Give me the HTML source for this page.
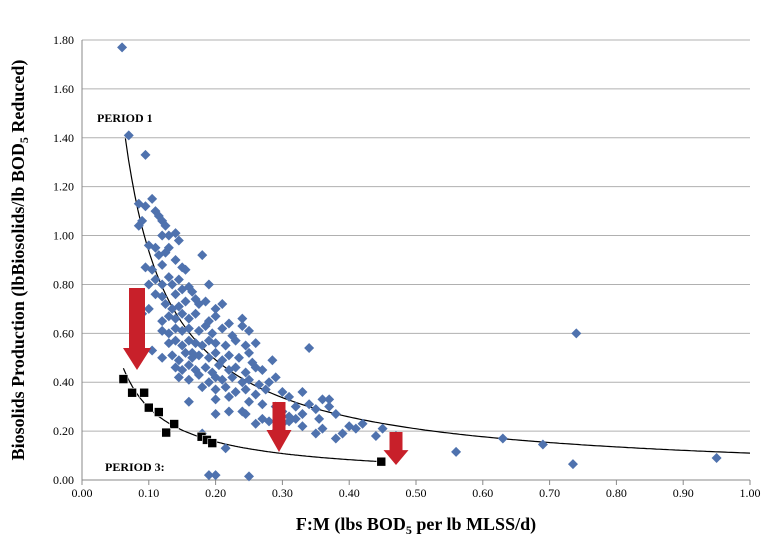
<!DOCTYPE html>
<html><head><meta charset="utf-8"><style>
body{margin:0;background:#fff;}
svg{display:block;font-family:"Liberation Serif",serif;}
</style></head><body>
<svg id="chart" width="765" height="550"></svg>
<script>
const xTicks=[0,0.1,0.2,0.3,0.4,0.5,0.6,0.7,0.8,0.9,1.0];
const yTicks=[0,0.2,0.4,0.6,0.8,1.0,1.2,1.4,1.6,1.8];
const p1x=[0.06,0.07,0.095,0.74,0.95,0.735,0.69,0.63,0.56,0.34,0.19,0.20,0.25,0.37,
0.085,0.095,0.105,0.11,0.115,0.12,0.085,0.09,0.125,0.12,0.13,0.14,0.145,0.1,0.11,0.115,0.125,0.13,0.095,0.105,0.12,0.14,0.15,0.155,0.18,0.1,0.11,0.12,0.13,0.135,0.145,0.16,0.165,0.19,0.11,0.12,0.14,0.15,0.17,0.175,0.2,0.1,0.125,0.135,0.145,0.155,0.185,0.21,0.12,0.13,0.14,0.15,0.16,0.17,0.19,0.2,0.22,0.24,0.12,0.13,0.14,0.15,0.16,0.175,0.185,0.195,0.21,0.225,0.24,0.25,0.13,0.14,0.15,0.16,0.17,0.18,0.19,0.2,0.215,0.23,0.245,0.26,0.12,0.135,0.145,0.155,0.165,0.175,0.19,0.2,0.21,0.22,0.235,0.25,0.255,0.285,0.14,0.15,0.16,0.17,0.185,0.195,0.205,0.22,0.23,0.245,0.26,0.27,0.145,0.16,0.175,0.19,0.2,0.21,0.225,0.24,0.25,0.265,0.28,0.29,0.18,0.2,0.215,0.23,0.245,0.26,0.275,0.3,0.31,0.33,0.32,0.34,0.35,0.36,0.37,0.38,0.2,0.22,0.25,0.27,0.29,0.3,0.31,0.33,0.355,0.4,0.41,0.42,0.39,0.38,0.44,0.45,0.36,0.35,0.33,0.31,0.16,0.22,0.245,0.27,0.3,0.26,0.2,0.18,0.215,0.24,0.28,0.29,0.32,0.165,0.105,0.09,0.47];
const p1y=[1.77,1.41,1.33,0.60,0.09,0.065,0.145,0.17,0.115,0.54,0.02,0.02,0.015,0.33,
1.13,1.12,1.15,1.10,1.08,1.06,1.04,1.06,1.04,1.00,1.00,1.01,0.98,0.96,0.95,0.92,0.93,0.95,0.87,0.86,0.88,0.90,0.87,0.86,0.92,0.80,0.82,0.80,0.83,0.80,0.82,0.79,0.77,0.80,0.76,0.75,0.76,0.78,0.74,0.72,0.70,0.70,0.72,0.70,0.71,0.73,0.73,0.72,0.65,0.67,0.66,0.68,0.66,0.68,0.65,0.67,0.64,0.66,0.61,0.60,0.62,0.61,0.62,0.61,0.63,0.60,0.62,0.59,0.63,0.61,0.56,0.57,0.55,0.57,0.56,0.55,0.57,0.56,0.55,0.57,0.55,0.56,0.50,0.51,0.49,0.52,0.50,0.51,0.50,0.52,0.49,0.51,0.50,0.52,0.48,0.49,0.46,0.45,0.47,0.45,0.46,0.44,0.47,0.45,0.46,0.44,0.46,0.45,0.42,0.41,0.43,0.40,0.42,0.41,0.42,0.40,0.41,0.39,0.40,0.42,0.38,0.37,0.38,0.36,0.37,0.35,0.37,0.36,0.34,0.36,0.30,0.31,0.29,0.33,0.30,0.27,0.33,0.34,0.32,0.31,0.30,0.28,0.26,0.27,0.25,0.22,0.21,0.23,0.19,0.17,0.18,0.21,0.21,0.19,0.22,0.24,0.32,0.28,0.27,0.25,0.23,0.23,0.27,0.19,0.13,0.28,0.24,0.20,0.25,0.52,0.53,0.68,0.18];
const p3x=[0.062,0.075,0.093,0.10,0.115,0.138,0.126,0.179,0.187,0.195,0.448];
const p3y=[0.413,0.357,0.357,0.296,0.278,0.229,0.194,0.177,0.164,0.151,0.075];
const fit1=[0.11,-0.93], fit3=[0.036,-0.914];

const L=82,R=750,T=40,B=480;
const X=v=>L+v*(R-L)/1.0, Y=v=>B-v*(B-T)/1.8;
const NS='http://www.w3.org/2000/svg', svg=document.getElementById('chart');
function mk(t,a,p){const e=document.createElementNS(NS,t);for(const k in a)e.setAttribute(k,a[k]);(p||svg).appendChild(e);return e;}
const g=mk('g',{});

yTicks.forEach(v=>{const l=mk('line',{x1:L,x2:R,y1:Y(v),y2:Y(v),stroke:'#b0b0b0','stroke-width':1},g);
 const t=mk('text',{x:L-8,y:Y(v)+4,'text-anchor':'end','font-size':12});t.textContent=v.toFixed(2);
 });
xTicks.forEach(v=>{mk('line',{x1:X(v),x2:X(v),y1:B,y2:B+5,stroke:'#888'});
 const t=mk('text',{x:X(v),y:B+17,'text-anchor':'middle','font-size':12});t.textContent=v.toFixed(2);
 });
const ax=mk('line',{x1:L,x2:L,y1:T,y2:B,stroke:'#888'});

const ax2=mk('line',{x1:L,x2:R,y1:B,y2:B,stroke:'#888'});

function curve(f,x0,x1,name){let d='';for(let i=0;i<=200;i++){const x=x0+(x1-x0)*i/200;d+=(i?'L':'M')+X(x).toFixed(1)+','+Y(f[0]*Math.pow(x,f[1])).toFixed(1);}
 const p=mk('path',{d:d,fill:'none',stroke:'#000','stroke-width':1.2});}
curve(fit1,0.065,1.0,'period1-trendline');
curve(fit3,0.062,0.448,'period3-trendline');
p1x.forEach((x,i)=>{const cx=X(x),cy=Y(p1y[i]);
 const e=mk('path',{d:`M${cx},${cy-5}L${cx+5},${cy}L${cx},${cy+5}L${cx-5},${cy}Z`,fill:'#4f72ae'});
 });
p3x.forEach((x,i)=>{const cx=X(x),cy=Y(p3y[i]);
 const e=mk('rect',{x:cx-4.5,y:cy-4.5,width:9,height:9,fill:'#000',stroke:'#fff','stroke-width':0.6});
 });
[[137,288,370],[279,402,452],[396,432,465]].forEach(a=>{const [x,y0,y1]=a,h=Math.min(22,(y1-y0)*0.45),w=a[0]==137?8:6.5;
 const e=mk('path',{d:`M${x-w},${y0}L${x+w},${y0}L${x+w},${y1-h}L${x+w+6},${y1-h}L${x},${y1}L${x-w-6},${y1-h}L${x-w},${y1-h}Z`,fill:'#c8202a'});
 });
let t=mk('text',{x:97,y:122,'font-size':12,'font-weight':'bold'});t.textContent='PERIOD 1';

t=mk('text',{x:105,y:471,'font-size':12,'font-weight':'bold'});t.textContent='PERIOD 3:';

t=mk('text',{x:416,y:530,'text-anchor':'middle','font-size':18,'font-weight':'bold'});
t.innerHTML='F:M (lbs BOD<tspan font-size="12" dy="4">5</tspan><tspan dy="-4"> per lb MLSS/d)</tspan>';

t=mk('text',{x:0,y:0,'text-anchor':'middle','font-size':18,'font-weight':'bold',transform:'translate(24,260) rotate(-90)'});
t.innerHTML='Biosolids Production (lbBiosolids/lb BOD<tspan font-size="12" dy="4">5</tspan><tspan dy="-4"> Reduced)</tspan>';

</script>
</body></html>
